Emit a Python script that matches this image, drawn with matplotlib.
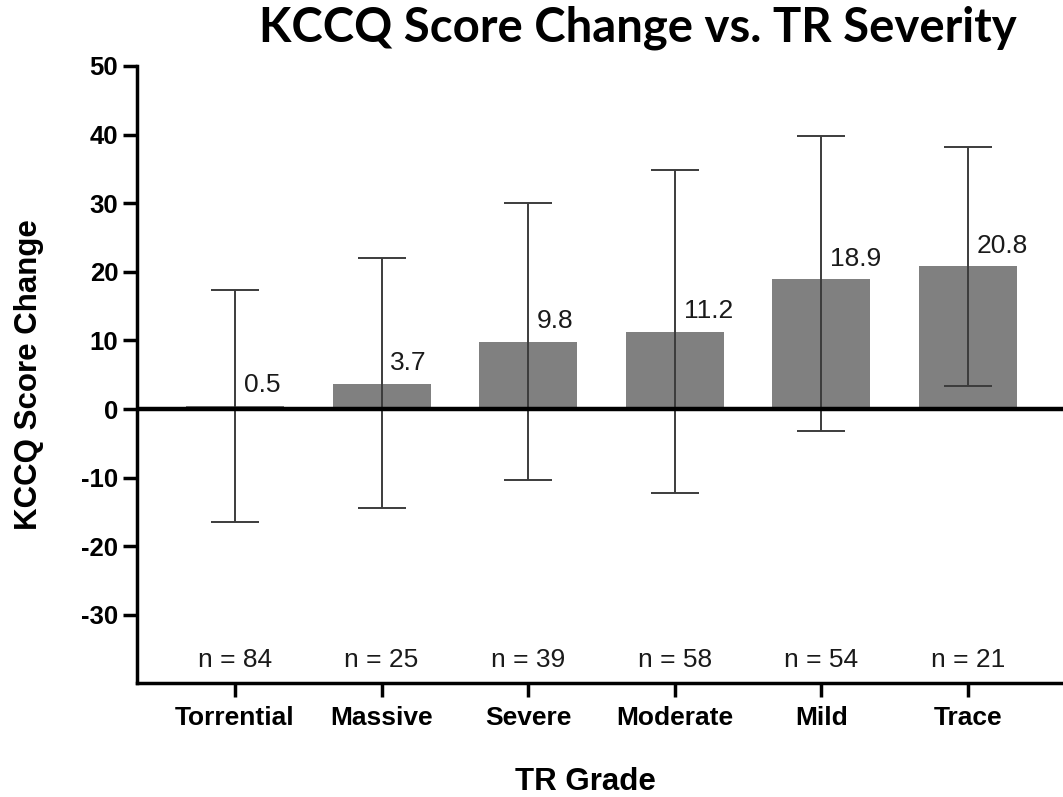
import numpy as np
import matplotlib
matplotlib.use('Agg')
import matplotlib.pyplot as plt

plt.rcParams['font.family'] = ['Liberation Sans', 'DejaVu Sans']
plt.rcParams['axes.unicode_minus'] = False

grades = ['Torrential', 'Massive', 'Severe', 'Moderate', 'Mild', 'Trace']
mean_change = [0.5, 3.7, 9.8, 11.2, 18.9, 20.8]
err_upper = [17.3, 22.0, 30.1, 34.9, 39.8, 38.2]
err_lower = [-16.4, -14.5, -10.4, -12.3, -3.2, 3.4]
n_patients = [84, 25, 39, 58, 54, 21]

x = np.arange(len(grades))
means = np.array(mean_change)
yerr = np.vstack([means - np.array(err_lower), np.array(err_upper) - means])

fig = plt.figure(figsize=(10.63, 7.97), dpi=100)
ax = fig.add_axes([0.1289, 0.1425, 0.8711, 0.7747])

ax.bar(x, means, width=0.668, color='#808080', zorder=2)
ax.errorbar(x, means, yerr=yerr, fmt='none', ecolor='#3c3c3c',
            elinewidth=1.4, capsize=17.5, capthick=1.4, zorder=3)
ax.axhline(0, color='black', lw=3.2, zorder=4)

# mean values to the right of each error bar
for xi, m in zip(x, means):
    ax.text(xi + 0.06, m + 2.0, f'{m:.1f}', ha='left', va='baseline',
            fontsize=19, color='#1a1a1a', zorder=5)

# group sizes along the bottom
for xi, n in zip(x, n_patients):
    ax.text(xi, -37.6, f'n = {n}', ha='center', va='baseline',
            fontsize=19, color='#1a1a1a')

ax.set_xlim(-0.6685, 5.648)
ax.set_ylim(-40, 50)
ax.set_yticks(np.arange(-30, 51, 10))
ax.set_xticks(x)
ax.set_xticklabels(grades, fontsize=19, fontweight='bold')
for lbl in ax.get_yticklabels():
    lbl.set_fontsize(18.5)
    lbl.set_fontweight('bold')

for side in ['top', 'right']:
    ax.spines[side].set_visible(False)
for side in ['left', 'bottom']:
    ax.spines[side].set_linewidth(2.5)
ax.tick_params(axis='both', length=10, width=2.5, color='black')
ax.tick_params(axis='y', pad=3.5)
ax.tick_params(axis='x', pad=6)

fig.text(29.5 / 1063, 1 - 375 / 797, 'KCCQ Score Change', rotation=90,
         ha='center', va='center', fontsize=22.5, fontweight='bold')
fig.text(585 / 1063, 1 - 790 / 797, 'TR Grade', ha='center', va='baseline',
         fontsize=22.5, fontweight='bold')
fig.text(638 / 1063, 1 - 41.5 / 797, 'KCCQ Score Change vs. TR Severity',
         ha='center', va='baseline', fontsize=34, fontweight='bold',
         family=['Lato', 'DejaVu Sans'])

fig.savefig('out.png', dpi=100)
